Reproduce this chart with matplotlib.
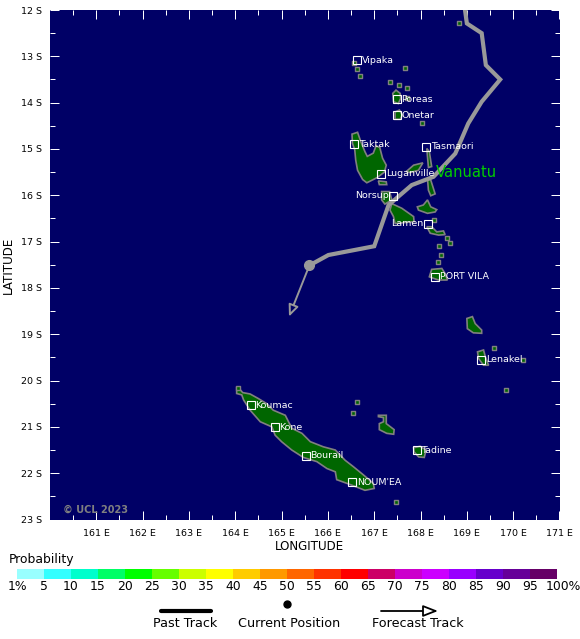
import numpy as np
import matplotlib
matplotlib.use("Agg")
import matplotlib.pyplot as plt
from matplotlib.patches import Polygon, Rectangle

W, H = 580, 639

# land outlines, (lon, lat south)
new_caledonia = [(164.03,20.135),(164.10,20.19),(164.16,20.26),(164.32,20.29),(164.50,20.39),(164.68,20.50),
    (164.82,20.64),(165.08,20.75),(165.22,21.03),(165.44,21.14),(165.62,21.32),(165.90,21.43),(166.16,21.50),
    (166.37,21.72),(166.55,21.86),(166.77,22.04),(166.98,22.22),(167.00,22.33),(166.80,22.37),(166.52,22.26),
    (166.19,22.14),(166.16,21.97),(165.98,21.90),(165.76,21.75),(165.47,21.66),(165.22,21.50),(165.00,21.32),
    (164.86,21.18),(164.79,21.00),(164.54,20.89),(164.32,20.64),(164.18,20.42),(164.14,20.31),(164.03,20.28)]
ouvea = [(167.09,20.75),(167.26,20.75),(167.26,20.93),(167.43,21.06),(167.42,21.16),(167.27,21.14),(167.11,21.06),
    (167.11,20.93),(167.20,20.89),(167.20,20.80),(167.09,20.78)]
mare = [(167.85,21.45),(167.99,21.42),(168.12,21.50),(168.08,21.66),(167.96,21.65),(167.86,21.54)]
santo = [(166.52,14.68),(166.64,14.64),(166.71,14.84),(166.80,15.06),(166.85,15.16),(166.98,15.09),(167.04,14.93),
    (167.12,14.97),(167.18,15.20),(167.26,15.35),(167.22,15.50),(167.06,15.62),(166.84,15.73),(166.75,15.66),
    (166.64,15.46),(166.60,15.24),(166.58,15.02),(166.53,14.88)]
malo = [(167.09,15.69),(167.26,15.71),(167.27,15.77),(167.11,15.77)]
ambae = [(167.69,15.49),(167.85,15.35),(168.05,15.30),(167.955,15.46),(167.775,15.51)]
maewo = [(168.135,14.99),(168.19,15.06),(168.24,15.38),(168.17,15.40),(168.15,15.17)]
pentecost = [(168.15,15.64),(168.22,15.67),(168.315,15.97),(168.22,16.01),(168.17,15.89)]
malekula_n = [(167.16,15.92),(167.33,15.92),(167.38,16.10),(167.23,16.19),(167.16,16.10)]
malekula_s = [(167.38,16.18),(167.595,16.28),(167.85,16.46),(167.86,16.57),(167.45,16.61),(167.415,16.46),(167.34,16.32)]
ambrym = [(167.93,16.25),(168.06,16.21),(168.15,16.10),(168.22,16.25),(168.35,16.31),(168.315,16.36),(168.15,16.39),(167.955,16.32)]
epi = [(168.135,16.68),(168.24,16.68),(168.35,16.79),(168.495,16.77),(168.53,16.85),(168.39,16.86),(168.21,16.82)]
gaua = [(167.40,13.80),(167.47,13.73),(167.56,13.80),(167.57,13.91),(167.52,14.02),(167.415,13.98)]
vanua_lava = [(167.45,14.20),(167.545,14.16),(167.61,14.27),(167.56,14.36),(167.45,14.36)]
efate = [(168.19,17.76),(168.24,17.60),(168.46,17.58),(168.53,17.69),(168.58,17.83),(168.39,17.83),(168.21,17.77)]
erromango = [(169.00,18.66),(169.12,18.62),(169.18,18.77),(169.32,18.91),(169.32,18.98),(169.14,18.97),(169.01,18.88)]
tanna = [(169.23,19.38),(169.36,19.34),(169.40,19.49),(169.47,19.67),(169.36,19.67),(169.25,19.52)]
islands = [new_caledonia, ouvea, mare, santo, malo, ambae, maewo, pentecost, malekula_n, malekula_s, ambrym, epi,
    gaua, vanua_lava, efate, erromango, tanna]

small_lon = [166.62,166.55,167.47,166.57,166.62,166.695,167.33,167.545,167.70,167.67,168.82,167.70,168.04,168.30,
    168.57,168.64,168.39,168.445,168.37,169.59,170.22,169.85,164.06]
small_lat = [20.46,20.70,22.63,13.14,13.28,13.43,13.55,13.62,13.68,13.26,12.27,13.89,14.45,16.54,
    16.93,17.04,17.09,17.28,17.45,19.29,19.55,20.21,20.16]

# track
past_lon = [168.96,169.0,169.32,169.41,169.72,169.32,169.03,168.75,168.28,167.81,167.31,167.0,166.01,165.60]
past_lat = [12.0,12.29,12.50,13.19,13.50,13.98,14.45,15.10,15.60,15.78,16.21,17.10,17.29,17.515]
forecast_lon = [165.60,165.16]
forecast_lat = [17.515,18.62]

# towns
town_names = ["Vipaka","Poreas","Onetar","Taktak","Tasmaori","Luganville","Norsup","Lamen","PORT VILA","Lenakel",
    "Koumac","Kone","Bourail","NOUM'EA","Tadine"]
town_lon = [166.63,167.49,167.49,166.57,168.12,167.15,167.41,168.17,168.32,169.31,164.33,164.85,165.52,166.52,167.92]
town_lat = [13.08,13.93,14.27,14.90,14.95,15.53,16.01,16.61,17.76,19.55,20.53,21.01,21.62,22.20,21.50]
town_left = ["Norsup","Lamen"]

# colour key
prob_colors = ["#99ffff","#33ffff","#00ffcc","#00ff66","#00ff00","#66ff00","#ccff00","#ffff00","#ffcc00","#ff9900",
    "#ff6600","#ff3300","#ff0000","#cc0066","#cc00cc","#cc00ff","#9900ff","#6600cc","#660099","#660066"]
prob_labels = ["1%","5","10","15","20","25","30","35","40","45","50","55","60","65","70","75","80","85","90","95","100%"]

lon_ticks = list(range(161, 172))
lat_ticks = list(range(12, 24))

GREY = "#999999"

fig = plt.figure(figsize=(W / 100, H / 100), dpi=100, facecolor="white")
ax = fig.add_axes([50 / W, 1 - 519.5 / H, 509.5 / W, 509.5 / H], facecolor="#000066")
ax.set_xlim(160, 171)
ax.set_ylim(23, 12)

for isl in islands:
    ax.add_patch(Polygon(isl, closed=True, facecolor="#006600", edgecolor="#808080", lw=1.2, zorder=2))
ax.scatter(small_lon, small_lat, s=8, marker="s", facecolor="#006600", edgecolor="#808080", linewidth=1.0, zorder=2)

ax.plot(past_lon, past_lat, color=GREY, lw=3, solid_joinstyle="miter", zorder=4)
ax.plot(past_lon[-1], past_lat[-1], "o", color=GREY, ms=7, zorder=4)
ax.annotate("", xy=(forecast_lon[1], forecast_lat[1]), xytext=(forecast_lon[0], forecast_lat[0]), zorder=4,
    arrowprops=dict(arrowstyle="-|>,head_length=0.7,head_width=0.3", color=GREY, lw=1.4, fc="#000066",
                    shrinkA=0, shrinkB=0))

for name, lon, lat in zip(town_names, town_lon, town_lat):
    ax.plot(lon, lat, "s", ms=5.5, mfc="none", mec="white", mew=0.8, zorder=5)
    if name in town_left:
        ax.text(lon - 0.1, lat, name, color="white", fontsize=6.8, ha="right", va="center", zorder=6)
    else:
        ax.text(lon + 0.1, lat, name, color="white", fontsize=6.8, ha="left", va="center", zorder=6)

ax.text(169.0, 15.5, "Vanuatu", color="#00cc00", fontsize=10.6, ha="center", va="center", zorder=6)
ax.text(160.27, 22.78, "© UCL 2023", color="#808080", fontsize=7, fontweight="bold", ha="left", va="center", zorder=6)

ax.set_xticks(lon_ticks)
ax.set_xticklabels([f"{v} E" for v in lon_ticks], fontsize=6.8)
ax.set_yticks(lat_ticks)
ax.set_yticklabels([f"{v} S" for v in lat_ticks], fontsize=6.8)
ax.set_xticks(np.arange(160.5, 171, 1), minor=True)
ax.set_yticks(np.arange(12.5, 23, 1), minor=True)
ax.tick_params(which="major", direction="in", length=6.5, width=0.72, color="white", top=True, right=True, pad=6)
ax.tick_params(which="minor", direction="in", length=3.6, width=0.72, color="white", top=True, right=True)
ax.tick_params(axis="x", which="major", pad=7)
for s in ax.spines.values():
    s.set_visible(False)

# everything below the map is placed in pixel space
key = fig.add_axes([0, 0, 1, 1], facecolor="none")
key.set_xlim(0, W)
key.set_ylim(H, 0)
key.axis("off")

fig.text(309 / W, 1 - 546 / H, "LONGITUDE", fontsize=8.6, ha="center", va="center")
fig.text(8 / W, 1 - 265 / H, "LATITUDE", fontsize=8.6, rotation=90, ha="center", va="center")

key.text(9, 560, "Probability", fontsize=8.9, ha="left", va="center")
for i, c in enumerate(prob_colors):
    key.add_patch(Rectangle((17 + i * 27, 569), 27, 10, facecolor=c, edgecolor="none"))
for i, lab in enumerate(prob_labels):
    # the 100% label is pushed in against the right edge of the image
    x = 17 + i * 27 if lab != "100%" else 563
    key.text(x, 586.5, lab, fontsize=8.9, ha="center", va="center")

key.plot([161, 211], [611, 611], color="black", lw=3, solid_capstyle="round")
key.plot(287, 604, "o", color="black", ms=5)
key.annotate("", xy=(438, 611), xytext=(381, 611),
    arrowprops=dict(arrowstyle="-|>,head_length=0.9,head_width=0.35", color="black", lw=1.3, fc="white",
                    shrinkA=0, shrinkB=0))
key.text(185, 623.5, "Past Track", fontsize=9.2, ha="center", va="center")
key.text(289.5, 623.5, "Current Position", fontsize=9.2, ha="center", va="center")
key.text(417.5, 623.5, "Forecast Track", fontsize=9.2, ha="center", va="center")

fig.savefig("out.png", dpi=100)
